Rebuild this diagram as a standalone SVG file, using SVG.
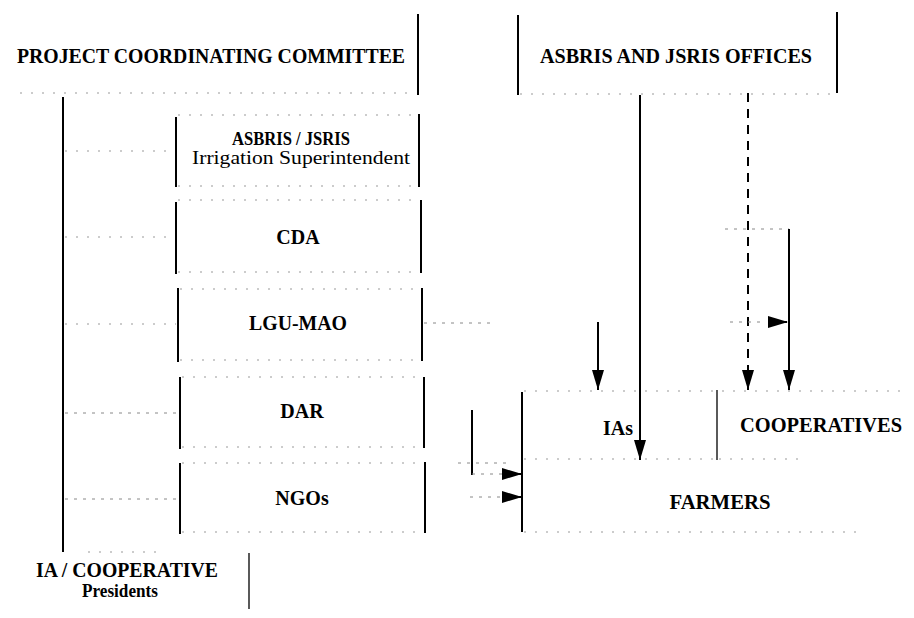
<svg xmlns="http://www.w3.org/2000/svg" width="914" height="618" viewBox="0 0 914 618">
<style>
  .t { font-family: "Liberation Serif", "Times New Roman", serif; fill: #000; text-anchor: middle; font-weight: bold; }
  .lg { font-size: 21px; }
  .md { font-size: 20px; }
  .reg { font-weight: normal; }
  .edge { stroke: #000; stroke-width: 2; fill: none; }
  .thin { stroke: #000; stroke-width: 1.3; fill: none; }
  .dot { stroke: #999; stroke-width: 1; stroke-dasharray: 2 9; fill: none; }
  .conn { stroke: #000; stroke-width: 2; fill: none; }
  .dash { stroke: #000; stroke-width: 2; stroke-dasharray: 9 7; fill: none; }
  .fdot { stroke: #888; stroke-width: 1; stroke-dasharray: 3 6; fill: none; }
</style>
<defs>
  <marker id="ad" viewBox="0 0 20 12" markerWidth="20" markerHeight="12" refX="20" refY="6" orient="auto" markerUnits="userSpaceOnUse">
    <path d="M0,0 L20,6 L0,12 Z" fill="#000"/>
  </marker>
  <marker id="ar" viewBox="0 0 20 14" markerWidth="20" markerHeight="14" refX="19" refY="7" orient="auto" markerUnits="userSpaceOnUse">
    <path d="M0,1 L20,7 L0,13 Z" fill="#000"/>
  </marker>
</defs>
<rect width="914" height="618" fill="#fff"/>

<g id="pcc">
  <line class="edge" x1="418" y1="14" x2="418" y2="95"/>
  <line class="dot" x1="20" y1="93" x2="416" y2="93"/>
  <text class="t lg" x="211" y="63" textLength="388" lengthAdjust="spacingAndGlyphs">PROJECT COORDINATING COMMITTEE</text>
</g>

<g id="offices">
  <line class="edge" x1="518" y1="15" x2="518" y2="95"/>
  <line class="edge" x1="837" y1="12" x2="837" y2="93"/>
  <line class="dot" x1="520" y1="94" x2="835" y2="94"/>
  <text class="t lg" x="676" y="63" textLength="272" lengthAdjust="spacingAndGlyphs">ASBRIS AND JSRIS OFFICES</text>
</g>

<g id="spine">
  <line class="edge" x1="63" y1="97" x2="63" y2="552"/>
</g>

<g id="irrig">
  <line class="edge" x1="176" y1="117" x2="176" y2="187"/>
  <line class="edge" x1="419" y1="114" x2="419" y2="187"/>
  <line class="dot" x1="178" y1="115" x2="417" y2="115"/>
  <line class="dot" x1="178" y1="186" x2="417" y2="186"/>
  <text class="t" x="291" y="145" font-size="19" textLength="118" lengthAdjust="spacingAndGlyphs">ASBRIS / JSRIS</text>
  <text class="t reg" x="301" y="164" font-size="18" textLength="218" lengthAdjust="spacingAndGlyphs">Irrigation Superintendent</text>
</g>

<g id="cda">
  <line class="edge" x1="176" y1="202" x2="176" y2="274"/>
  <line class="edge" x1="421" y1="200" x2="421" y2="273"/>
  <line class="dot" x1="178" y1="200" x2="419" y2="200"/>
  <line class="dot" x1="178" y1="272" x2="419" y2="272"/>
  <text class="t md" x="298" y="244">CDA</text>
</g>

<g id="lgu">
  <line class="edge" x1="178" y1="288" x2="178" y2="362"/>
  <line class="edge" x1="422" y1="288" x2="422" y2="361"/>
  <line class="dot" x1="180" y1="289" x2="420" y2="289"/>
  <line class="dot" x1="180" y1="360" x2="420" y2="360"/>
  <text class="t md" x="298" y="330" textLength="98" lengthAdjust="spacingAndGlyphs">LGU-MAO</text>
</g>

<g id="dar">
  <line class="edge" x1="180" y1="377" x2="180" y2="449"/>
  <line class="edge" x1="424" y1="377" x2="424" y2="448"/>
  <line class="dot" x1="182" y1="377" x2="422" y2="377"/>
  <line class="dot" x1="182" y1="447" x2="422" y2="447"/>
  <text class="t md" x="302" y="418">DAR</text>
</g>

<g id="ngos">
  <line class="edge" x1="180" y1="463" x2="180" y2="534"/>
  <line class="edge" x1="425" y1="462" x2="425" y2="533"/>
  <line class="dot" x1="182" y1="463" x2="423" y2="463"/>
  <line class="dot" x1="182" y1="532" x2="423" y2="532"/>
  <text class="t md" x="302" y="505">NGOs</text>
</g>

<g id="presidents">
  <line class="thin" x1="249" y1="553" x2="249" y2="609"/>
  <line class="dot" x1="88" y1="552" x2="160" y2="552"/>
  <text class="t md" x="127" y="577" textLength="182" lengthAdjust="spacingAndGlyphs">IA / COOPERATIVE</text>
  <text class="t" x="120" y="597" font-size="18" textLength="76" lengthAdjust="spacingAndGlyphs">Presidents</text>
</g>

<g id="farmers">
  <line class="edge" x1="522" y1="392" x2="522" y2="532"/>
  <line class="dot" x1="524" y1="391" x2="900" y2="391"/>
  <line class="dot" x1="524" y1="532" x2="860" y2="532"/>
  <text class="t md" x="720" y="509" textLength="101" lengthAdjust="spacingAndGlyphs">FARMERS</text>
</g>

<g id="ias">
  <line class="dot" x1="524" y1="459" x2="716" y2="459"/>
  <text class="t md" x="618" y="435">IAs</text>
</g>

<g id="cooperatives">
  <line class="thin" x1="717" y1="390" x2="717" y2="460"/>
  <line class="dot" x1="719" y1="459" x2="805" y2="459"/>
  <text class="t md" x="821" y="432" textLength="162" lengthAdjust="spacingAndGlyphs">COOPERATIVES</text>
</g>

<g id="connectors">
  <line class="dot" x1="65" y1="151" x2="174" y2="151"/>
  <line class="dot" x1="65" y1="237" x2="174" y2="237"/>
  <line class="dot" x1="65" y1="324" x2="176" y2="324"/>
  <line class="fdot" x1="65" y1="413" x2="178" y2="413"/>
  <line class="fdot" x1="65" y1="499" x2="178" y2="499"/>
  <line class="fdot" x1="424" y1="323" x2="490" y2="323"/>
  <line class="conn" x1="640" y1="95" x2="640" y2="460" marker-end="url(#ad)"/>
  <line class="dash" x1="748" y1="93" x2="748" y2="390" marker-end="url(#ad)"/>
  <line class="fdot" x1="725" y1="229" x2="789" y2="229"/>
  <line class="conn" x1="789" y1="229" x2="789" y2="390" marker-end="url(#ad)"/>
  <line class="fdot" x1="730" y1="322" x2="766" y2="322"/>
  <line class="conn" x1="770" y1="322" x2="787" y2="322" stroke-width="0" marker-end="url(#ar)"/>
  <line class="conn" x1="598" y1="322" x2="598" y2="390" marker-end="url(#ad)"/>
  <line class="conn" x1="472" y1="410" x2="472" y2="475"/>
  <line class="fdot" x1="472" y1="474" x2="503" y2="474"/>
  <line class="conn" x1="503" y1="474" x2="521" y2="474" stroke-width="0" marker-end="url(#ar)"/>
  <line class="fdot" x1="458" y1="463" x2="512" y2="463"/>
  <line class="fdot" x1="470" y1="497" x2="503" y2="497"/>
  <line class="conn" x1="503" y1="497" x2="521" y2="497" stroke-width="0" marker-end="url(#ar)"/>
</g>
</svg>
